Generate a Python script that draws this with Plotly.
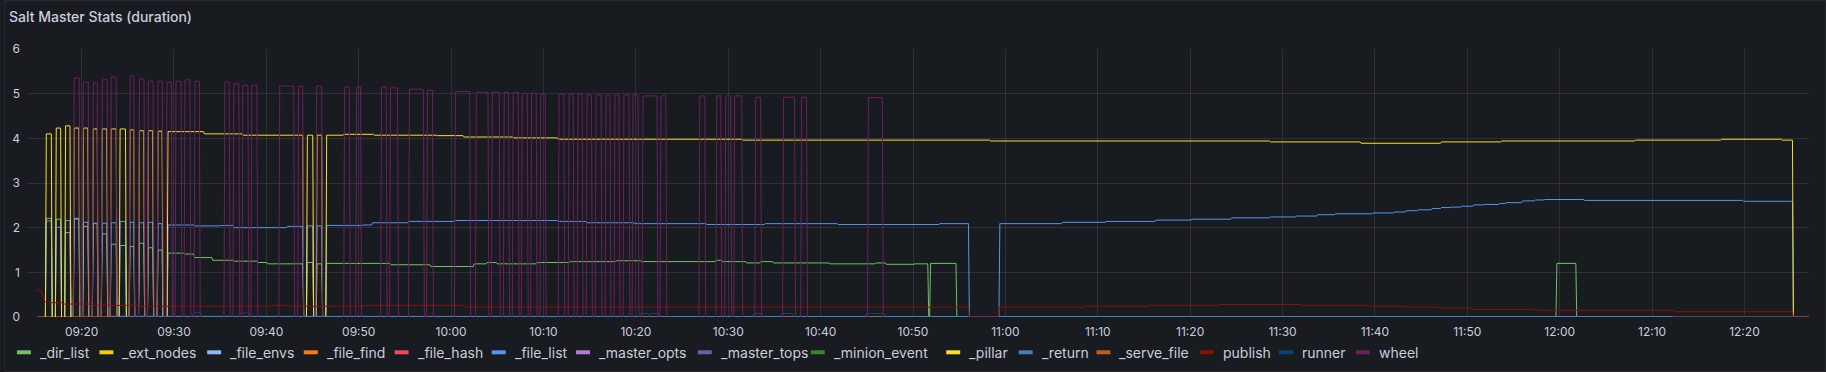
import pandas as pd
import plotly.graph_objects as go

# ---------------- data (minutes after 09:00) ----------------
BASE = pd.Timestamp("2024-01-01 09:00:00")

series_names = ["_dir_list", "_ext_nodes", "_file_envs", "_file_find", "_file_hash",
                "_file_list", "_master_opts", "_master_tops", "_minion_event", "_pillar",
                "_return", "_serve_file", "publish", "runner", "wheel"]
series_colors = ["#73BF69", "#F2CC0C", "#8AB8FF", "#FF780A", "#F2495C",
                 "#5794F2", "#B877D9", "#705DA0", "#37872D", "#FADE2A",
                 "#447EBC", "#C15C17", "#890F02", "#0A437C", "#6D1F62"]

# early bursts (shared timing for _pillar / _dir_list / _file_list)
burst_on = [16.18, 17.26, 18.27, 19.20, 20.21, 21.26, 22.23, 23.20, 24.17, 25.25, 26.26, 27.23, 28.28]
burst_off = [16.72, 17.73, 18.74, 19.71, 20.68, 21.69, 22.73, 23.74, 24.75, 25.65, 26.73, 27.70, 28.71]
pillar_burst = [4.10, 4.23, 4.28, 4.23, 4.23, 4.21, 4.21, 4.21, 4.21, 4.19, 4.17, 4.17, 4.16]
dir_burst = [2.21, 2.19, 1.89, 2.21, 2.03, 2.09, 1.86, 1.63, 1.60, 1.58, 1.65, 1.55, 1.50]
file_list_burst = [2.15, 2.01, 2.16, 2.19, 2.12, 2.10, 2.10, 2.11, 2.14, 2.12, 2.11, 2.12, 2.09]

# steady parts: value v[i] holds from t[i] to t[i+1]
pillar_t = [29.25, 33.2, 37.35, 43.94, 44.34, 45.02, 45.39, 45.99, 46.43, 48.3, 51.6, 58.4, 61.3,
            66.7, 71.5, 91.5, 118.3, 148.6, 158.4, 167.1, 173.6, 188.1, 197.4, 204.0, 205.2, 207.0]
pillar_v = [4.15, 4.10, 4.07, 0, 4.07, 0, 4.07, 0, 4.07, 4.09, 4.07, 4.06, 4.03,
            4.01, 3.98, 3.96, 3.94, 3.92, 3.89, 3.92, 3.94, 3.96, 3.98, 3.96, 0]

dir_t = [29.25, 31.05, 32.13, 34.1, 36.45, 38.97, 40.05, 43.94, 44.34, 45.02, 45.39, 45.99, 46.43,
         53.4, 57.7, 62.4, 63.8, 64.9, 69.2, 72.8, 77.8, 80.5, 88.6, 89.3, 91.9, 93.4, 94.8,
         100.9, 105.9, 107.0, 110.1, 111.6, 111.8, 114.65, 179.6, 181.75, 207.0]
dir_v = [1.43, 1.41, 1.33, 1.27, 1.25, 1.22, 1.19, 0, 1.22, 0, 1.19, 0, 1.20,
         1.17, 1.13, 1.19, 1.22, 1.19, 1.22, 1.24, 1.26, 1.24, 1.27, 1.24, 1.21, 1.24, 1.21,
         1.19, 1.21, 1.18, 1.19, 0, 1.20, 0, 1.20, 0]

file_list_t = [29.25, 32.1, 35.0, 36.4, 42.2, 43.94, 44.34, 45.02, 45.39, 45.99, 46.43, 50.4, 51.4,
               55.3, 60.4, 71.5, 74.6, 79.8, 87.6, 93.9, 101.8, 112.8, 116.0, 119.3, 126.1, 130.8,
               136.2, 140.1, 144.4, 148.6, 151.4, 153.7, 155.6, 159.7, 162.0, 163.3, 164.6, 166.1,
               167.1, 168.2, 169.3, 170.6, 171.8, 173.4, 174.1, 175.9, 177.3, 178.3, 182.6, 199.8,
               205.2, 207.0]
file_list_v = [2.06, 2.04, 2.05, 2.00, 2.03, 0, 2.04, 0, 2.04, 0, 2.05, 2.06, 2.11,
               2.14, 2.16, 2.14, 2.11, 2.09, 2.07, 2.09, 2.07, 2.09, 0, 2.09, 2.12, 2.14,
               2.17, 2.19, 2.22, 2.24, 2.26, 2.29, 2.31, 2.33, 2.35, 2.38, 2.40, 2.43,
               2.45, 2.46, 2.48, 2.51, 2.52, 2.54, 2.56, 2.60, 2.62, 2.63, 2.61, 2.59, 0]

publish_t = [15.2, 15.6, 15.9, 16.5, 17.9, 21.1, 26.0, 40.4, 42.2, 50.5, 61.3, 116.0, 119.2,
             128.6, 135.5, 143.0, 152.0, 159.1, 163.4, 166.8, 170.4, 177.4, 192.3, 205.2, 207.0]
publish_v = [0.60, 0.49, 0.34, 0.32, 0.29, 0.26, 0.24, 0.26, 0.24, 0.26, 0.22, 0, 0.22,
             0.24, 0.26, 0.28, 0.26, 0.24, 0.22, 0.20, 0.17, 0.15, 0.12, 0]

wheel_on = [19.20, 20.18, 21.26, 22.23, 23.20, 25.25, 26.26, 27.23, 28.28, 29.25, 30.22, 31.19,
            32.27, 35.51, 36.48, 37.46, 38.43, 41.45, 43.50, 45.45, 48.47, 49.77, 52.47, 53.44,
            55.49, 57.44, 60.46, 62.73, 64.46, 65.75, 66.72, 67.70, 68.71, 69.71, 71.69, 72.77,
            73.75, 74.72, 75.69, 76.77, 77.74, 78.71, 79.69, 80.77, 82.71, 86.92, 88.76, 89.73,
            90.70, 92.97, 95.99, 97.94, 105.17]
wheel_off = [19.74, 20.72, 21.69, 22.77, 23.74, 25.65, 26.76, 27.74, 28.74, 29.72, 30.76, 31.73,
             32.74, 35.98, 37.02, 38.00, 38.97, 42.96, 43.94, 45.99, 48.98, 50.20, 52.97, 54.20,
             57.00, 57.98, 62.01, 63.99, 65.21, 66.22, 67.26, 68.24, 69.21, 70.18, 72.20, 73.21,
             74.18, 75.19, 76.23, 77.20, 78.17, 79.25, 80.23, 82.28, 83.25, 87.46, 89.19, 90.27,
             91.46, 93.51, 97.18, 98.48, 106.68]
wheel_top = [5.35, 5.26, 5.24, 5.31, 5.37, 5.40, 5.33, 5.28, 5.28, 5.26, 5.28, 5.31,
             5.28, 5.26, 5.22, 5.19, 5.19, 5.17, 5.17, 5.17, 5.15, 5.15, 5.15, 5.13,
             5.10, 5.08, 5.05, 5.03, 5.03, 5.03, 5.03, 5.01, 5.01, 4.99, 4.99, 4.99,
             4.99, 4.97, 4.97, 4.97, 4.97, 4.97, 4.97, 4.95, 4.95, 4.95, 4.95, 4.95,
             4.95, 4.92, 4.92, 4.92, 4.91]
wheel_tail_t = [116.0, 119.3, 192.2, 207.0]
wheel_tail_v = [0, None, 0]

runner_on = [32.15, 37.20, 80.55, 81.60, 92.80, 95.90, 105.00]
runner_off = [32.85, 38.10, 81.30, 82.40, 93.60, 96.90, 106.90]
runner_top = [0.10, 0.09, 0.08, 0.08, 0.08, 0.08, 0.08]
runner_base = 0.015

serve_on = [32.15, 37.20, 80.55, 81.60, 92.80, 95.90, 105.00]
serve_off = [32.85, 38.10, 81.30, 82.40, 93.60, 96.90, 106.90]
serve_v = [0, 0, 0, 0, 0, 0, 0]

file_find_t = [15.2, 23.2]
file_find_v = [0]
return_t = [23.2, 116.0, 119.3, 192.2]
return_v = [0.015, 0, 0.006]
zero_t = [23.2, 192.2]
zero_v = [0]

x_range = [14.09, 206.99]
tick_start = 20.0

# ---------------- helpers ----------------
RAMP = 0.1


def tm(m):
    return None if m is None else BASE + pd.Timedelta(minutes=m)


def level_xy(edges, levels, r=RAMP, lead=None):
    xs, ys = [], []
    prev = None
    if lead is not None:
        xs.append(edges[0]); ys.append(lead); prev = lead
    for i, v in enumerate(levels):
        a, b = edges[i], edges[i + 1]
        if v is None:
            xs.append(None); ys.append(None); prev = None
            continue
        start = min(a + r, b) if prev is not None else a
        xs += [start, b]; ys += [v, v]
        prev = v
    return xs, ys


def pulse_xy(on, off, top, base=0.0, r=RAMP):
    xs, ys = [], []
    for s, e, h in zip(on, off, top):
        xs += [s - r, s, e, e + r, None]
        ys += [base, h, h, base, None]
    return xs, ys


def join(*parts):
    xs, ys = [], []
    for px, py in parts:
        xs += px; ys += py
    return xs, ys


data = {
    "_dir_list": join(pulse_xy(burst_on, burst_off, dir_burst), level_xy(dir_t, dir_v, lead=0)),
    "_ext_nodes": level_xy(zero_t, zero_v),
    "_file_envs": level_xy(zero_t, zero_v),
    "_file_find": level_xy(file_find_t, file_find_v),
    "_file_hash": level_xy(zero_t, zero_v),
    "_file_list": join(pulse_xy(burst_on, burst_off, file_list_burst),
                       level_xy(file_list_t, file_list_v, lead=0)),
    "_master_opts": level_xy(zero_t, zero_v),
    "_master_tops": level_xy(zero_t, zero_v),
    "_minion_event": level_xy(zero_t, zero_v),
    "_pillar": join(pulse_xy(burst_on, burst_off, pillar_burst), level_xy(pillar_t, pillar_v, lead=0)),
    "_return": level_xy(return_t, return_v),
    "_serve_file": pulse_xy(serve_on, serve_off, serve_v),
    "publish": level_xy(publish_t, publish_v),
    "runner": pulse_xy(runner_on, runner_off, runner_top, base=runner_base, r=0.2),
    "wheel": join(pulse_xy(wheel_on, wheel_off, wheel_top), level_xy(wheel_tail_t, wheel_tail_v)),
}

# ---------------- figure ----------------
W, H = 1826, 372
ML, MR, MT, MB = 23, 17, 49, 55
PW, PH = W - ML - MR, H - MT - MB
BG = "#181b1f"
GRID = "rgba(204,204,220,0.12)"
TXT = "#ccccdc"
FONT = "Inter, Roboto, sans-serif"

fig = go.Figure()
for name, color in zip(series_names, series_colors):
    xs, ys = data[name]
    fig.add_trace(go.Scatter(
        x=[tm(v) for v in xs], y=ys, mode="lines", name=name,
        line=dict(color=color, width=1), hoverinfo="skip", showlegend=False,
        connectgaps=False,
    ))


def px_to_paper_x(px):
    return (px - ML) / PW


def py_to_paper_y(py):
    return (H - MB - py) / PH


# custom Grafana-like legend
legend_swatch_x = [12.9, 95.6, 203.6, 300.4, 391.4, 488.8, 573.3, 695.3, 808.5,
                   944.3, 1016.9, 1094.9, 1198.2, 1278.0, 1354.7]
legend_y = 352.3
shapes = []
annotations = []
for name, color, sx in zip(series_names, series_colors, legend_swatch_x):
    shapes.append(dict(type="rect", xref="paper", yref="paper",
                       x0=px_to_paper_x(sx), x1=px_to_paper_x(sx + 14),
                       y0=py_to_paper_y(legend_y + 2), y1=py_to_paper_y(legend_y - 2),
                       fillcolor=color, line=dict(width=0), layer="above"))
    annotations.append(dict(xref="paper", yref="paper", x=px_to_paper_x(sx + 21),
                            y=py_to_paper_y(legend_y), xanchor="left", yanchor="middle",
                            text=name, showarrow=False,
                            font=dict(family=FONT, size=14, color=TXT)))

# panel border
shapes.append(dict(type="rect", xref="paper", yref="paper",
                   x0=px_to_paper_x(0.5), x1=px_to_paper_x(W - 0.5),
                   y0=py_to_paper_y(H - 0.5), y1=py_to_paper_y(0.5),
                   line=dict(color="rgba(204,204,220,0.08)", width=1), layer="below"))

fig.update_layout(
    width=W, height=H,
    margin=dict(l=ML, r=MR, t=MT, b=MB, pad=0),
    paper_bgcolor=BG, plot_bgcolor=BG,
    font=dict(family=FONT, color=TXT, size=12),
    title=dict(text="Salt Master Stats (duration)", xref="container", yref="container",
               x=9 / W, y=1 - 16.7 / H, xanchor="left", yanchor="middle",
               font=dict(family=FONT, size=14, color=TXT, weight=500)),
    showlegend=False,
    shapes=shapes,
    annotations=annotations,
    xaxis=dict(type="date", range=[tm(x_range[0]), tm(x_range[1])],
               tick0=tm(tick_start), dtick=600000, tickformat="%H:%M",
               showgrid=True, gridcolor=GRID, gridwidth=1, zeroline=False,
               showline=False, ticks="", tickfont=dict(family=FONT, size=12, color=TXT),
               ticklabelstandoff=6, fixedrange=True),
    yaxis=dict(range=[0, 6], dtick=1, tick0=0, showgrid=True, gridcolor=GRID, gridwidth=1,
               zeroline=False, showline=False, ticks="",
               tickfont=dict(family=FONT, size=12, color=TXT), ticklabelstandoff=6,
               fixedrange=True),
)

fig.write_html("out.html")
